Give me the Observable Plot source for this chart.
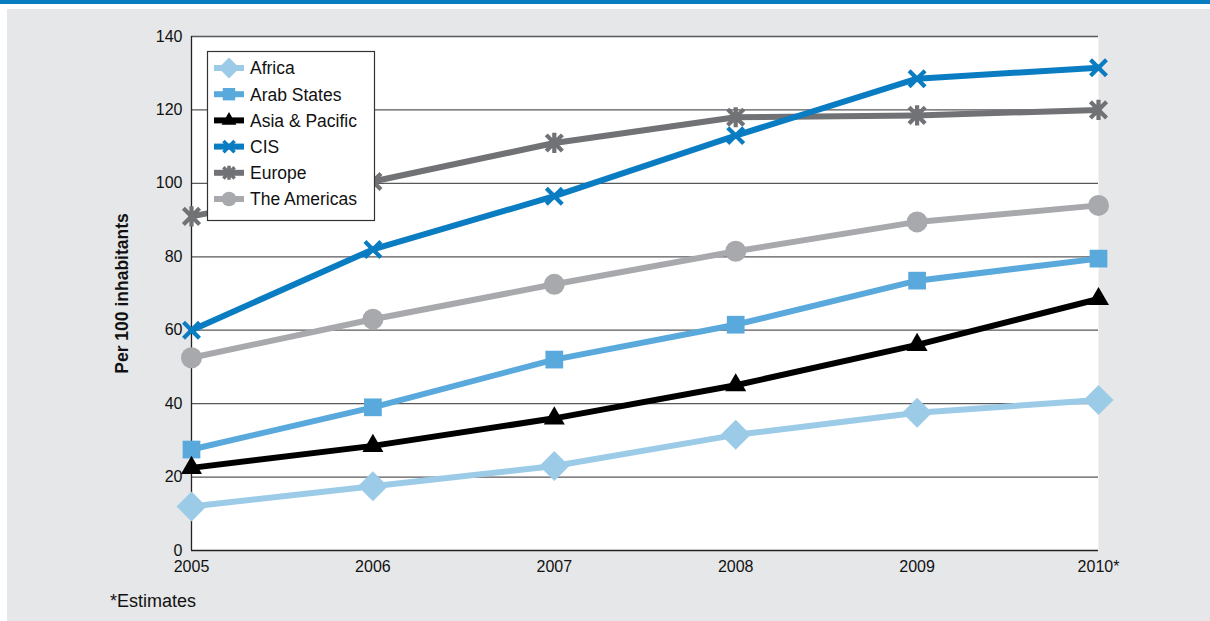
<!DOCTYPE html>
<html>
<head>
<meta charset="utf-8">
<script src="https://cdn.jsdelivr.net/npm/d3@7"></script>
<script src="https://cdn.jsdelivr.net/npm/@observablehq/plot@0.6"></script>
<style>
  html, body { margin: 0; padding: 0; background: #ffffff; }
  body { width: 1210px; height: 621px; position: relative; overflow: hidden;
         font-family: "Liberation Sans", Arial, sans-serif; }
  #topbar { position: absolute; left: 0; top: 0; width: 1210px; height: 4px; background: #0a7cc1; }
  #panel { position: absolute; left: 7px; top: 9px; width: 1203px; height: 612px; background: #e6e7e9; }
  #chart { position: absolute; left: 0; top: 0; }
  #legend { position: absolute; left: 207px; top: 51px; }
  #note { position: absolute; left: 110px; top: 591px; font-size: 18px; color: #111; }
  #chart svg text { fill: #111; }
  #chart [aria-label="y-axis label"] text { font-weight: bold; font-size: 17.5px; }
</style>
</head>
<body>
<div id="topbar"></div>
<div id="panel"></div>
<div id="chart"></div>
<div id="legend"></div>
<div id="note">*Estimates</div>
<script>
// ---- data ----
const years = [2005, 2006, 2007, 2008, 2009, 2010];
const yearLabels = ["2005", "2006", "2007", "2008", "2009", "2010*"];
const yTicks = [0, 20, 40, 60, 80, 100, 120, 140];

const seriesNames = ["Africa", "Arab States", "Asia & Pacific", "CIS", "Europe", "The Americas"];
const africa   = [12, 17.5, 23, 31.5, 37.5, 41];
const arab     = [27.5, 39, 52, 61.5, 73.5, 79.5];
const asia     = [22.5, 28.5, 36, 45, 56, 68.5];
const cis      = [60, 82, 96.5, 113, 128.5, 131.5];
const europe   = [91, 100.5, 111, 118, 118.5, 120];
const americas = [52.5, 63, 72.5, 81.5, 89.5, 94];

const seriesValues = [africa, arab, asia, cis, europe, americas];
const seriesColors = ["#9ccbe8", "#5aa9dc", "#000000", "#0a7cc1", "#717275", "#a8a9ad"];

// custom asterisk: vertical bar plus an X
const starX = {
  draw(context, size) {
    const r = Math.sqrt(size) * 0.6;
    const d = r * 0.8;
    context.moveTo(0, -r); context.lineTo(0, r);
    context.moveTo(-d, -d); context.lineTo(d, d);
    context.moveTo(-d, d); context.lineTo(d, -d);
  }
};
const seriesSymbols = [d3.symbolDiamond2, d3.symbolSquare, d3.symbolTriangle, d3.symbolTimes, starX, d3.symbolCircle];
const symbolIsStroke = [false, false, false, true, true, false];
const symbolR = [13.5, 10, 7.8, 7.3, 9.5, 10.5];

const rows = [];
seriesNames.forEach((name, i) => {
  seriesValues[i].forEach((v, j) => rows.push({ series: name, idx: i, year: years[j], value: v }));
});

// drawing order (bottom to top)
const order = [4, 5, 3, 1, 2, 0];

const marks = [
  Plot.frame({ fill: "white", stroke: "none" }),
  Plot.ruleY(yTicks.filter(d => d > 0), { stroke: "#58595b", strokeWidth: 1.3 }),
  Plot.ruleY([0], { stroke: "#222", strokeWidth: 1.3 }),
  Plot.ruleX([2005], { stroke: "#222", strokeWidth: 1.3 }),
  Plot.axisX({ ticks: years, tickSize: 0, tickPadding: 10, tickFormat: d => yearLabels[years.indexOf(d)], fontSize: 16, label: null }),
  Plot.axisY({ ticks: yTicks, tickSize: 0, tickPadding: 9, fontSize: 16, label: "Per 100 inhabitants", labelAnchor: "center", labelArrow: "none", labelOffset: 76 })
];

order.forEach(i => {
  const data = rows.filter(r => r.idx === i);
  marks.push(Plot.line(data, { x: "year", y: "value", stroke: seriesColors[i], strokeWidth: 6, strokeLinejoin: "round" }));
});
order.forEach(i => {
  const data = rows.filter(r => r.idx === i);
  if (symbolIsStroke[i]) {
    marks.push(Plot.dot(data, { x: "year", y: "value", symbol: seriesSymbols[i], r: symbolR[i], stroke: seriesColors[i], strokeWidth: 4.2, fill: "none" }));
  } else {
    marks.push(Plot.dot(data, { x: "year", y: "value", symbol: seriesSymbols[i], r: symbolR[i], fill: seriesColors[i], stroke: "none" }));
  }
});

const chart = Plot.plot({
  width: 1210,
  height: 585,
  marginLeft: 191,
  marginRight: 112,
  marginTop: 36,
  marginBottom: 35,
  style: { background: "transparent", fontFamily: "'Liberation Sans', Arial, sans-serif", color: "#111", overflow: "visible" },
  x: { domain: [2005, 2010] },
  y: { domain: [0, 140] },
  marks
});
document.getElementById("chart").appendChild(chart);

// ---- legend ----
const lw = 168, lh = 170;
const lsvg = d3.select("#legend").append("svg").attr("width", lw).attr("height", lh).style("overflow", "visible");
lsvg.append("rect").attr("x", 0.5).attr("y", 0.5).attr("width", lw - 1).attr("height", lh - 1)
  .attr("fill", "white").attr("stroke", "#333").attr("stroke-width", 1.2);
seriesNames.forEach((name, i) => {
  const cy = 17 + i * 26.2;
  const g = lsvg.append("g").attr("transform", `translate(0,${cy})`);
  g.append("line").attr("x1", 7).attr("x2", 37).attr("y1", 0).attr("y2", 0)
    .attr("stroke", seriesColors[i]).attr("stroke-width", 6);
  const rr = symbolR[i] * 0.7;
  const path = d3.symbol(seriesSymbols[i], Math.PI * rr * rr)();
  const p = g.append("path").attr("d", path).attr("transform", "translate(22,0)");
  if (symbolIsStroke[i]) p.attr("fill", "none").attr("stroke", seriesColors[i]).attr("stroke-width", 3.5);
  else p.attr("fill", seriesColors[i]);
  g.append("text").attr("x", 43).attr("y", 0).attr("dy", "0.36em")
    .attr("font-size", 17.5).attr("fill", "#111")
    .attr("font-family", "'Liberation Sans', Arial, sans-serif")
    .text(name);
});
</script>
</body>
</html>
